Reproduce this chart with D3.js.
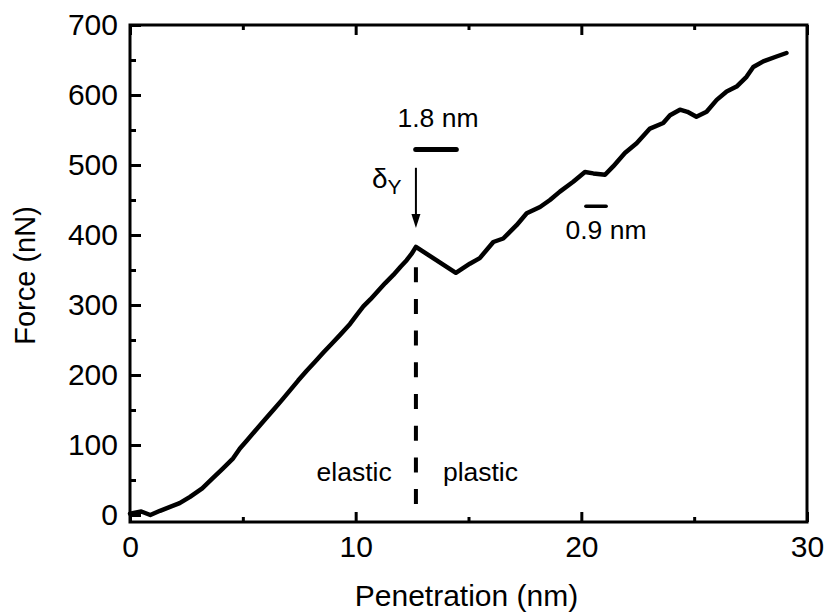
<!DOCTYPE html>
<html>
<head>
<meta charset="utf-8">
<script src="https://cdn.jsdelivr.net/npm/d3@7"></script>
<style>
  html, body { margin: 0; padding: 0; background: #fff; }
  text { font-family: "Liberation Sans", Arial, sans-serif; fill: #000; }
</style>
</head>
<body>
<svg id="chart" width="826" height="613"></svg>
<script>
// ---- data ----
const penetration = [0, 0.5, 0.9, 1.33, 2.2, 2.66, 3.2, 3.68, 4.1, 4.57, 4.87, 5.17, 5.54, 6.0, 6.35, 6.7, 7.09, 7.45, 7.83, 8.2, 8.57, 8.95, 9.3, 9.75, 10.05, 10.34, 10.65, 10.93, 11.3, 11.67, 12.0, 12.26, 12.5, 12.67,
  14.44, 15.06, 15.5, 16.1, 16.54, 17.13, 17.58, 18.17, 18.61, 19.05, 19.64, 20.16, 20.53, 21.05, 21.41, 21.93, 22.45, 23.04, 23.63, 23.93, 24.37, 24.7, 25.1, 25.55, 26.0, 26.44, 26.88, 27.32, 27.62, 28.06, 28.65, 29.09];
const force = [2, 5, 0, 6, 17, 26, 38, 53, 66, 81, 95, 106, 120, 137, 150, 163, 178, 192, 206, 219, 232, 245, 257, 273, 286, 298, 308, 318, 331, 343, 355, 364, 374, 383,
  346, 359, 367, 390, 395, 414, 431, 440, 450, 462, 476, 490, 488, 486, 498, 517, 531, 552, 560, 571, 579, 576, 569, 576, 593, 605, 612, 626, 640, 648, 655, 660];

const xMajorTicks = [0, 10, 20, 30];
const xMinorTicks = [5, 15, 25];
const yMajorTicks = [0, 100, 200, 300, 400, 500, 600, 700];
const yMinorTicks = [50, 150, 250, 350, 450, 550, 650];

const xLabel = "Penetration (nm)";
const yLabel = "Force (nN)";

// annotations in data coordinates
const yieldX = 12.67;                 // δY position
const dashedSpan = [354, 14];         // force range of the dashed marker
const arrowSpan = [496, 410];         // force range of the arrow
const bar18 = { x0: 12.66, x1: 14.46, y: 522, label: "1.8 nm", labelY: 554 };
const bar09 = { x0: 20.2, x1: 21.1, y: 441, label: "0.9 nm", labelY: 394 };
const regionLabels = [{ text: "elastic", x: 9.93, y: 48 }, { text: "plastic", x: 15.53, y: 48 }];

// ---- layout ----
const svg = d3.select("#chart");
const L = 130, R = 807, T = 25, B = 522;
const x = d3.scaleLinear().domain([0, 30]).range([L, R]);
const y = d3.scaleLinear().domain([-10, 700]).range([B, T]);

// axes frame
svg.append("rect").attr("x", L).attr("y", T).attr("width", R - L).attr("height", B - T)
  .attr("fill", "none").attr("stroke", "#000").attr("stroke-width", 3);

function styleAxis(g) {
  g.select(".domain").remove();
  g.selectAll("line").attr("stroke", "#000").attr("stroke-width", 3);
  g.selectAll("text").attr("font-size", 30).attr("font-family", "Liberation Sans, Arial, sans-serif");
}

// bottom
svg.append("g").attr("transform", `translate(0,${B})`)
  .call(d3.axisBottom(x).tickValues(xMajorTicks).tickSize(-10).tickPadding(14).tickFormat(d3.format("d")))
  .call(styleAxis);
svg.append("g").attr("transform", `translate(0,${B})`)
  .call(d3.axisBottom(x).tickValues(xMinorTicks).tickSize(-5).tickFormat(""))
  .call(styleAxis);
// top
svg.append("g").attr("transform", `translate(0,${T})`)
  .call(d3.axisTop(x).tickValues(xMajorTicks).tickSize(-10).tickFormat(""))
  .call(styleAxis);
svg.append("g").attr("transform", `translate(0,${T})`)
  .call(d3.axisTop(x).tickValues(xMinorTicks).tickSize(-5).tickFormat(""))
  .call(styleAxis);
// left
svg.append("g").attr("transform", `translate(${L},0)`)
  .call(d3.axisLeft(y).tickValues(yMajorTicks).tickSize(-11).tickPadding(12).tickFormat(d3.format("d")))
  .call(styleAxis);
svg.append("g").attr("transform", `translate(${L},0)`)
  .call(d3.axisLeft(y).tickValues(yMinorTicks).tickSize(-6).tickFormat(""))
  .call(styleAxis);

// axis titles
svg.append("text").attr("x", (L + R) / 2 - 2).attr("y", 606).attr("text-anchor", "middle")
  .attr("font-size", 30).text(xLabel);
svg.append("text").attr("transform", `translate(35,${(T + B) / 2 + 2}) rotate(-90)`)
  .attr("text-anchor", "middle").attr("font-size", 29).text(yLabel);

// curve
const pts = penetration.map((p, i) => [p, force[i]]);
svg.append("path").datum(pts)
  .attr("fill", "none").attr("stroke", "#000").attr("stroke-width", 4.5)
  .attr("stroke-linejoin", "round").attr("stroke-linecap", "round")
  .attr("d", d3.line().x(d => x(d[0])).y(d => y(d[1])));

// dashed yield marker
svg.append("line").attr("x1", x(yieldX)).attr("x2", x(yieldX))
  .attr("y1", y(dashedSpan[0])).attr("y2", y(dashedSpan[1]))
  .attr("stroke", "#000").attr("stroke-width", 4).attr("stroke-dasharray", "15,16.7");

// arrow
svg.append("line").attr("x1", x(yieldX)).attr("x2", x(yieldX))
  .attr("y1", y(arrowSpan[0])).attr("y2", y(arrowSpan[1]) - 10)
  .attr("stroke", "#000").attr("stroke-width", 2);
const ax = x(yieldX), ay = y(arrowSpan[1]);
svg.append("path").attr("d", `M${ax - 4.5},${ay - 14} L${ax + 4.5},${ay - 14} L${ax},${ay} Z`).attr("fill", "#000");

// δY label
const dl = svg.append("text").attr("x", ax - 44).attr("y", y(arrowSpan[0]) + 20).attr("font-size", 28);
dl.append("tspan").text("δ");
dl.append("tspan").attr("font-size", 21).attr("dy", 6).text("Y");

// scale bars
[bar18, bar09].forEach((b, i) => {
  svg.append("line").attr("x1", x(b.x0)).attr("x2", x(b.x1)).attr("y1", y(b.y)).attr("y2", y(b.y))
    .attr("stroke", "#000").attr("stroke-width", i === 0 ? 5 : 3.5).attr("stroke-linecap", "round");
  svg.append("text").attr("x", x((b.x0 + b.x1) / 2) + (i === 0 ? 2 : 10)).attr("y", y(b.labelY))
    .attr("text-anchor", "middle").attr("font-size", 26.5).text(b.label);
});

// region labels
regionLabels.forEach(r => {
  svg.append("text").attr("x", x(r.x)).attr("y", y(r.y)).attr("text-anchor", "middle")
    .attr("font-size", 26.5).text(r.text);
});
</script>
</body>
</html>
